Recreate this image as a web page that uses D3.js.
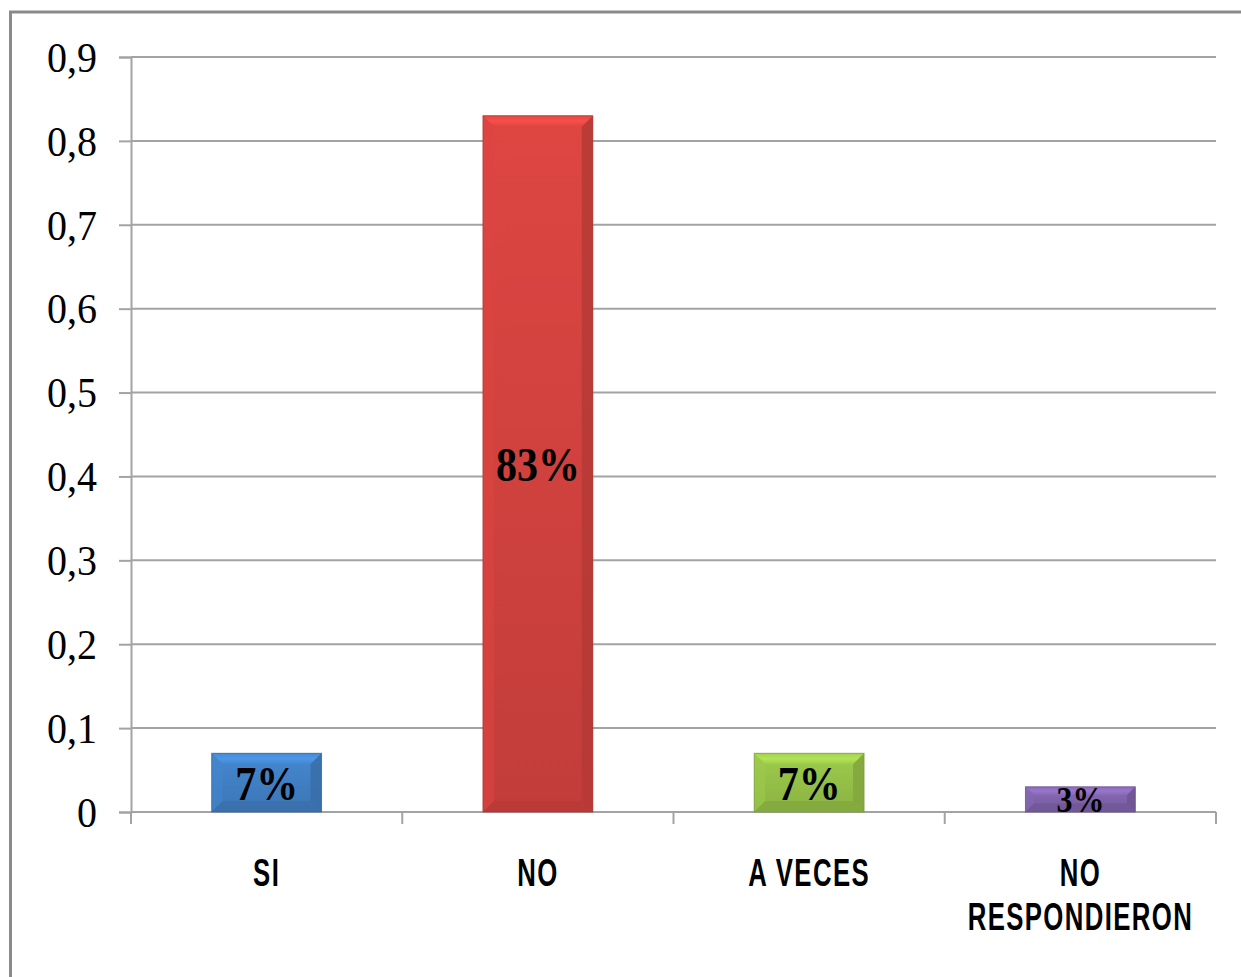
<!DOCTYPE html>
<html>
<head>
<meta charset="utf-8">
<script src="https://cdn.jsdelivr.net/npm/d3@7"></script>
<style>
  html, body { margin: 0; padding: 0; background: #fff; }
  svg { display: block; }
</style>
</head>
<body>
<svg id="chart" width="1241" height="977"></svg>
<script>
// Survey answers and their shares
const categories = ["SI", "NO", "A VECES", "NO RESPONDIERON"];
const values = [0.07, 0.83, 0.07, 0.03];
const valueLabels = ["7%", "83%", "7%", "3%"];
const barColors = ["#4383c9", "#d84440", "#9ac64a", "#8466b0"];
const yTicks = [0, 0.1, 0.2, 0.3, 0.4, 0.5, 0.6, 0.7, 0.8, 0.9];

const svg = d3.select("#chart");
const W = 1241, H = 977;
const defs = svg.append("defs");

// outer frame
svg.append("rect")
  .attr("x", 10.5).attr("y", 12).attr("width", W + 10).attr("height", H + 10)
  .attr("fill", "#fff").attr("stroke", "#8a8a8a").attr("stroke-width", 3);

const plot = { left: 131, right: 1216, top: 57, bottom: 812 };

const y = d3.scaleLinear().domain([0, 0.9]).range([plot.bottom, plot.top]);
const x = d3.scaleBand().domain(categories).range([plot.left, plot.right])
  .paddingInner(0.595).paddingOuter(0.2975);

const fmt = d => d === 0 ? "0" : d3.format(".1f")(d).replace(".", ",");

// horizontal gridlines
svg.append("g").selectAll("line").data(yTicks.filter(d => d > 0)).join("line")
  .attr("x1", plot.left).attr("x2", plot.right)
  .attr("y1", d => y(d)).attr("y2", d => y(d))
  .attr("stroke", "#a3a3a3").attr("stroke-width", 2);

// y axis
const yAxis = svg.append("g").attr("transform", `translate(${plot.left},0)`)
  .call(d3.axisLeft(y).tickValues(yTicks).tickSize(12).tickFormat(fmt));
yAxis.select(".domain").attr("stroke", "#a3a3a3").attr("stroke-width", 2);
yAxis.selectAll(".tick line").attr("stroke", "#a3a3a3").attr("stroke-width", 2);
yAxis.selectAll(".tick text")
  .attr("font-family", "'Liberation Serif', serif")
  .attr("font-size", 40).attr("fill", "#000").attr("font-weight", 300)
  .attr("text-anchor", "end")
  .attr("dy", "0.33em")
  .attr("x", 0).attr("y", 0)
  .attr("transform", "translate(-34,0) scale(1.0,1.08)");

// x axis baseline with ticks at band boundaries
const bounds = categories.map(c => x(c) - x.step() * x.paddingInner() / 2).concat([plot.right]);
svg.append("line")
  .attr("x1", plot.left).attr("x2", plot.right)
  .attr("y1", plot.bottom).attr("y2", plot.bottom)
  .attr("stroke", "#a3a3a3").attr("stroke-width", 2);
svg.append("g").selectAll("line").data(bounds).join("line")
  .attr("x1", d => d).attr("x2", d => d)
  .attr("y1", plot.bottom).attr("y2", plot.bottom + 12)
  .attr("stroke", "#a3a3a3").attr("stroke-width", 2);

// bevelled bars
const bars = svg.append("g");
categories.forEach((c, i) => {
  const x0 = x(c), w = x.bandwidth();
  const y0 = y(values[i]), y1 = y(0), h = y1 - y0;
  const b = Math.min(11, h / 3);
  const base = d3.color(barColors[i]);

  const gid = "barfill" + i;
  const lg = defs.append("linearGradient").attr("id", gid)
    .attr("x1", 0).attr("y1", 0).attr("x2", 0).attr("y2", 1);
  lg.append("stop").attr("offset", 0).attr("stop-color", base.brighter(0.08).formatHex());
  lg.append("stop").attr("offset", 1).attr("stop-color", base.darker(0.3).formatHex());

  const tid = "bartop" + i;
  const tg = defs.append("linearGradient").attr("id", tid)
    .attr("x1", 0).attr("y1", 0).attr("x2", 0).attr("y2", 1);
  tg.append("stop").attr("offset", 0).attr("stop-color", base.brighter(0.15).formatHex());
  tg.append("stop").attr("offset", 0.5).attr("stop-color", base.brighter(0.4).formatHex());
  tg.append("stop").attr("offset", 1).attr("stop-color", base.brighter(0.05).formatHex());

  const g = bars.append("g");
  const poly = pts => pts.map(p => p.join(",")).join(" ");
  g.append("rect").attr("x", x0).attr("y", y0).attr("width", w).attr("height", h)
    .attr("fill", `url(#${gid})`);
  // top facet
  g.append("polygon").attr("points", poly([[x0, y0], [x0 + w, y0], [x0 + w - b, y0 + b], [x0 + b, y0 + b]]))
    .attr("fill", `url(#${tid})`);
  // left facet
  g.append("polygon").attr("points", poly([[x0, y0], [x0 + b, y0 + b], [x0 + b, y1 - b], [x0, y1]]))
    .attr("fill", base.brighter(0.05).formatHex()).attr("opacity", 0.6);
  // right facet
  g.append("polygon").attr("points", poly([[x0 + w, y0], [x0 + w, y1], [x0 + w - b, y1 - b], [x0 + w - b, y0 + b]]))
    .attr("fill", base.darker(0.5).formatHex()).attr("opacity", 0.85);
  // bottom facet
  g.append("polygon").attr("points", poly([[x0, y1], [x0 + b, y1 - b], [x0 + w - b, y1 - b], [x0 + w, y1]]))
    .attr("fill", base.darker(0.45).formatHex()).attr("opacity", 0.85);
  g.append("rect").attr("x", x0).attr("y", y0).attr("width", w).attr("height", h)
    .attr("fill", "none").attr("stroke", base.darker(0.7).formatHex()).attr("stroke-width", 1)
    .attr("stroke-opacity", 0.7);

  // value label centred in the bar
  const cy = (y0 + y1) / 2;
  g.append("text")
    .attr("transform", `translate(${x0 + w / 2},${cy}) scale(1,1.15)`)
    .attr("text-anchor", "middle").attr("dy", "0.35em")
    .attr("font-family", "'Liberation Serif', serif").attr("font-weight", "bold")
    .attr("font-size", values[i] < 0.05 ? 32 : 42).attr("fill", "#000")
    .text(valueLabels[i]);
});

// category labels
const catG = svg.append("g");
categories.forEach(c => {
  const words = c === "NO RESPONDIERON" ? ["NO", "RESPONDIERON"] : [c];
  words.forEach((wd, j) => {
    catG.append("text")
      .attr("transform", `translate(${x(c) + x.bandwidth() / 2},${886 + j * 44}) scale(0.92,1.4)`)
      .attr("text-anchor", "middle")
      .attr("font-family", "'Liberation Sans', Arial, sans-serif").attr("font-weight", "bold")
      .attr("font-size", 28).attr("letter-spacing", 1.5).attr("fill", "#000")
      .text(wd);
  });
});
</script>
</body>
</html>
